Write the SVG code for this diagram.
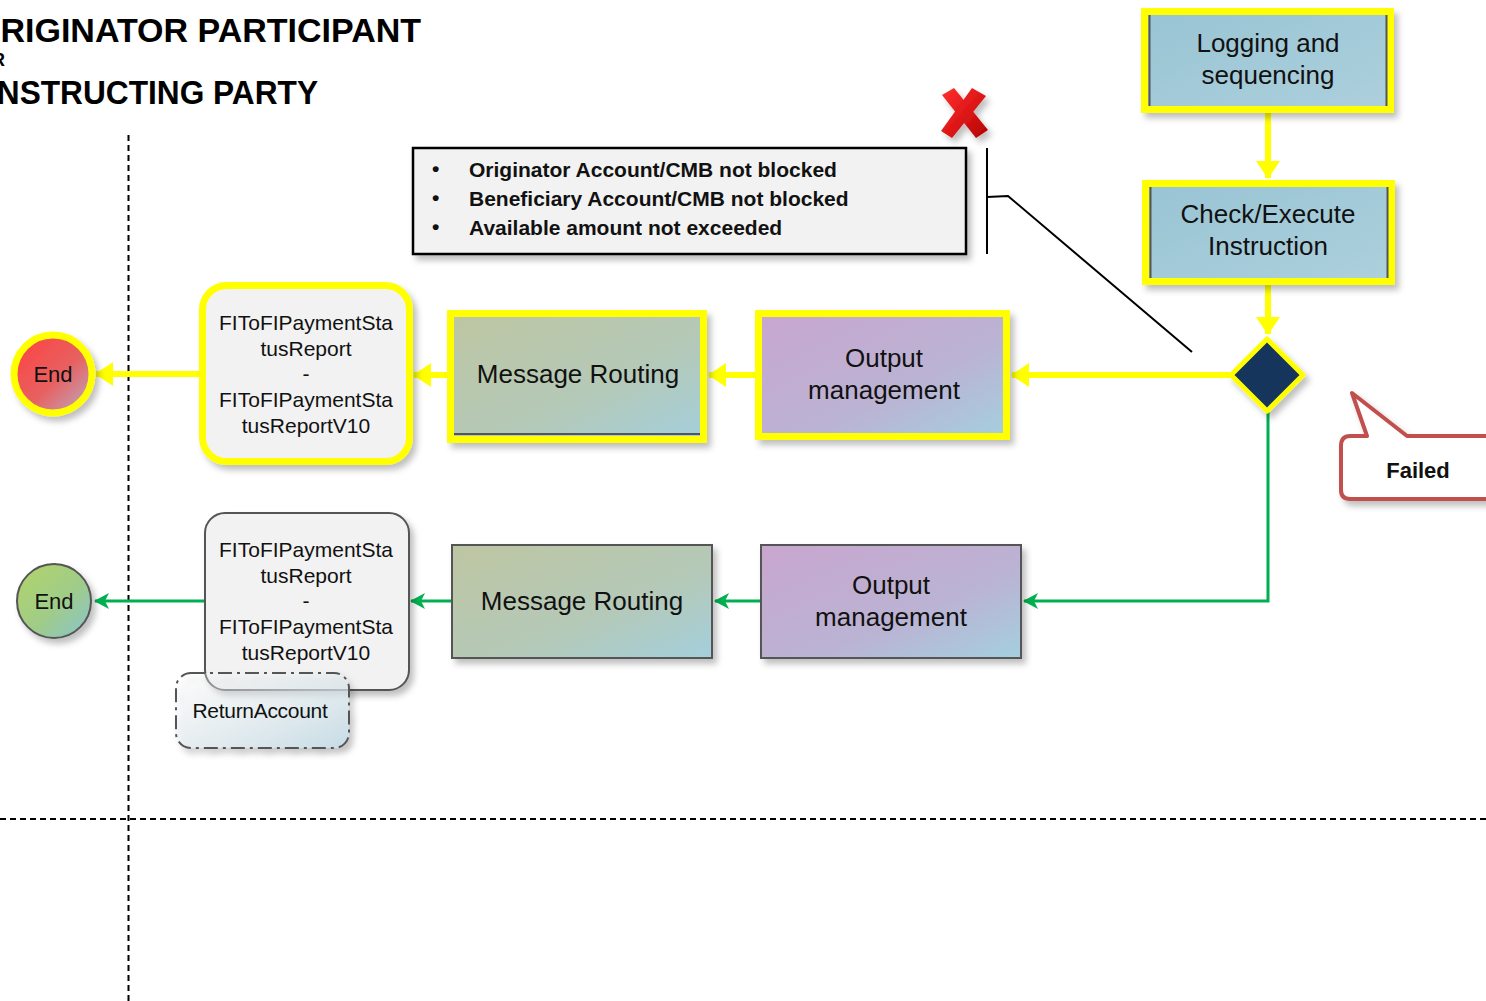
<svg xmlns="http://www.w3.org/2000/svg" width="1486" height="1001" viewBox="0 0 1486 1001">
<defs>
<style>
.t{font-family:"Liberation Sans",Arial,sans-serif;fill:#111;text-anchor:middle}
.box{font-size:26px}
.msg{font-size:21px}
.cond{font-family:"Liberation Sans",Arial,sans-serif;font-weight:bold;font-size:21px;fill:#111}
.title{font-family:"Liberation Sans",Arial,sans-serif;font-weight:bold;fill:#000}
.lane{stroke:#000;stroke-width:2;stroke-dasharray:6 4;fill:none}
.yl{stroke:#ffff00;stroke-width:6;fill:none}
.gl{stroke:#00b050;stroke-width:3;fill:none}
.ybox{stroke:#ffff00;stroke-width:7}
.gbox{stroke:#555;stroke-width:2}
</style>
<linearGradient id="gBlue" x1="0" y1="0" x2="1" y2="1"><stop offset="0" stop-color="#98c4d4"/><stop offset="1" stop-color="#add0dc"/></linearGradient>
<linearGradient id="gPurple" x1="0" y1="0" x2="1" y2="1"><stop offset="0" stop-color="#c9a6cf"/><stop offset="0.6" stop-color="#bbb3d3"/><stop offset="1" stop-color="#a4cfdf"/></linearGradient>
<linearGradient id="gGreen" x1="0" y1="0" x2="1" y2="1"><stop offset="0" stop-color="#bec6a2"/><stop offset="0.6" stop-color="#b4c9b8"/><stop offset="1" stop-color="#a4cfdc"/></linearGradient>
<linearGradient id="gRed" x1="0" y1="0" x2="1" y2="1"><stop offset="0" stop-color="#ff4040"/><stop offset="0.55" stop-color="#e86060"/><stop offset="1" stop-color="#b8b0c8"/></linearGradient>
<linearGradient id="gGrn" x1="0" y1="0" x2="1" y2="1"><stop offset="0" stop-color="#b2d468"/><stop offset="0.55" stop-color="#a0cc88"/><stop offset="1" stop-color="#88c4d0"/></linearGradient>
<linearGradient id="gRet" x1="0" y1="0" x2="1" y2="1"><stop offset="0" stop-color="#ffffff" stop-opacity="0.2"/><stop offset="1" stop-color="#c6dce6"/></linearGradient>
<linearGradient id="gX" x1="0" y1="0" x2="1" y2="1"><stop offset="0" stop-color="#ff3030"/><stop offset="0.5" stop-color="#e01818"/><stop offset="1" stop-color="#b00000"/></linearGradient>
<filter id="sh" x="-10%" y="-10%" width="130%" height="140%"><feDropShadow dx="4" dy="5" stdDeviation="3" flood-color="#000" flood-opacity="0.25"/></filter>
<marker id="ay" markerUnits="userSpaceOnUse" markerWidth="20" markerHeight="24" refX="17" refY="12" orient="auto"><path d="M0,0 L18,12 L0,24 z" fill="#ffff00"/></marker>
<marker id="ag" markerUnits="userSpaceOnUse" markerWidth="16" markerHeight="18" refX="14" refY="9" orient="auto"><path d="M0,1 L15,9 L0,17 L4,9 z" fill="#00b050"/></marker>
</defs>

<g id="titles">
<text class="title" x="-26" y="42" font-size="34" textLength="447" lengthAdjust="spacingAndGlyphs">ORIGINATOR PARTICIPANT</text>
<text class="title" x="5" y="66" font-size="18" text-anchor="end">OR</text>
<text class="title" x="-12" y="104" font-size="34" textLength="330" lengthAdjust="spacingAndGlyphs">INSTRUCTING PARTY</text>
</g>

<g id="lanes">
<line class="lane" x1="128.5" y1="135" x2="128.5" y2="1001"/>
<line class="lane" x1="0" y1="819" x2="1486" y2="819"/>
</g>

<g id="connectors">
<path class="yl" d="M1268,112 L1268,178" marker-end="url(#ay)"/>
<path class="yl" d="M1268,285 L1268,334" marker-end="url(#ay)"/>
<path class="yl" d="M1230,375 L1012,375" marker-end="url(#ay)"/>
<path class="yl" d="M755,375 L709,375" marker-end="url(#ay)"/>
<path class="yl" d="M447,375 L414,375" marker-end="url(#ay)"/>
<path class="yl" d="M199,374 L96,374" marker-end="url(#ay)"/>
<path class="gl" d="M1268,412 L1268,601 L1024,601" marker-end="url(#ag)"/>
<path class="gl" d="M761,601 L715,601" marker-end="url(#ag)"/>
<path class="gl" d="M452,601 L411,601" marker-end="url(#ag)"/>
<path class="gl" d="M205,601 L95,601" marker-end="url(#ag)"/>
<path d="M987,148 L987,254 M987,197 L1008,196 L1192,352" stroke="#000" stroke-width="2" fill="none"/>
</g>

<g id="conditions">
<rect x="413" y="148" width="553" height="106" fill="#f2f2f2" stroke="#000" stroke-width="2.5" filter="url(#sh)"/>
<text class="cond" x="432" y="176">•</text>
<text class="cond" x="469" y="177">Originator Account/CMB not blocked</text>
<text class="cond" x="432" y="205">•</text>
<text class="cond" x="469" y="206">Beneficiary Account/CMB not blocked</text>
<text class="cond" x="432" y="234">•</text>
<text class="cond" x="469" y="235">Available amount not exceeded</text>
</g>

<g id="redX" filter="url(#sh)">
<path d="M942,95 L954,88 L988,130 L976,138 z" fill="url(#gX)"/>
<path d="M972,88 L986,96 L952,138 L941,131 z" fill="url(#gX)"/>
</g>

<g id="logging">
<rect x="1144.5" y="11.5" width="246" height="98" fill="url(#gBlue)" class="ybox" filter="url(#sh)"/>
<line x1="1149.5" y1="15" x2="1149.5" y2="106" stroke="#555" stroke-width="2"/>
<line x1="1386.5" y1="15" x2="1386.5" y2="106" stroke="#555" stroke-width="2"/>
<text class="t box" x="1268" y="52">Logging and</text>
<text class="t box" x="1268" y="84">sequencing</text>
</g>

<g id="check">
<rect x="1145.5" y="183.5" width="246" height="98" fill="url(#gBlue)" class="ybox" filter="url(#sh)"/>
<line x1="1150.5" y1="187" x2="1150.5" y2="278" stroke="#555" stroke-width="2"/>
<line x1="1387.5" y1="187" x2="1387.5" y2="278" stroke="#555" stroke-width="2"/>
<text class="t box" x="1268" y="223">Check/Execute</text>
<text class="t box" x="1268" y="255">Instruction</text>
</g>

<g id="decision">
<path d="M1267,339 L1303,375 L1267,411 L1231,375 z" fill="#17365d" stroke="#ffff00" stroke-width="5" stroke-linejoin="round" filter="url(#sh)"/>
</g>

<g id="failed">
<path d="M1352,393 L1367,436 L1350,436 Q1341,436 1341,446 L1341,490 Q1341,499 1350,499 L1492,499 L1492,436 L1407,436 z" fill="#fff" stroke="#c0504d" stroke-width="4" stroke-linejoin="round" filter="url(#sh)"/>
<text class="t" x="1418" y="478" font-size="22" font-weight="bold">Failed</text>
</g>

<g id="output1">
<rect x="758.5" y="313.5" width="248" height="123" fill="url(#gPurple)" class="ybox" filter="url(#sh)"/>
<text class="t box" x="884" y="367">Output</text>
<text class="t box" x="884" y="399">management</text>
</g>

<g id="routing1">
<rect x="450.5" y="313.5" width="253" height="126" fill="url(#gGreen)" class="ybox" filter="url(#sh)"/>
<line x1="454" y1="434" x2="700" y2="434" stroke="#555" stroke-width="2"/>
<text class="t box" x="578" y="383">Message Routing</text>
</g>

<g id="report1">
<rect x="202.5" y="285.5" width="207" height="176" rx="24" fill="#f2f2f2" class="ybox" filter="url(#sh)"/>
<text class="t msg" x="306" y="330">FIToFIPaymentSta</text>
<text class="t msg" x="306" y="356">tusReport</text>
<text class="t msg" x="306" y="381">-</text>
<text class="t msg" x="306" y="407">FIToFIPaymentSta</text>
<text class="t msg" x="306" y="433">tusReportV10</text>
</g>

<g id="end1">
<circle cx="53" cy="374" r="39" fill="url(#gRed)" stroke="#ffff00" stroke-width="7" filter="url(#sh)"/>
<text class="t" x="53" y="382" font-size="22">End</text>
</g>

<g id="output2">
<rect x="761" y="545" width="260" height="113" fill="url(#gPurple)" class="gbox" filter="url(#sh)"/>
<text class="t box" x="891" y="594">Output</text>
<text class="t box" x="891" y="626">management</text>
</g>

<g id="routing2">
<rect x="452" y="545" width="260" height="113" fill="url(#gGreen)" class="gbox" filter="url(#sh)"/>
<text class="t box" x="582" y="610">Message Routing</text>
</g>

<g id="report2">
<rect x="205" y="513" width="204" height="177" rx="20" fill="#f2f2f2" class="gbox" filter="url(#sh)"/>
<text class="t msg" x="306" y="557">FIToFIPaymentSta</text>
<text class="t msg" x="306" y="583">tusReport</text>
<text class="t msg" x="306" y="608">-</text>
<text class="t msg" x="306" y="634">FIToFIPaymentSta</text>
<text class="t msg" x="306" y="660">tusReportV10</text>
</g>

<g id="returnAccount">
<rect x="176" y="673" width="173" height="75" rx="15" fill="url(#gRet)" stroke="#555" stroke-width="2" stroke-dasharray="14 5 3 5" filter="url(#sh)"/>
<text class="t msg" x="260" y="718" letter-spacing="-0.3">ReturnAccount</text>
</g>

<g id="end2">
<circle cx="54" cy="601" r="37" fill="url(#gGrn)" stroke="#555" stroke-width="2" filter="url(#sh)"/>
<text class="t" x="54" y="609" font-size="22">End</text>
</g>
</svg>
